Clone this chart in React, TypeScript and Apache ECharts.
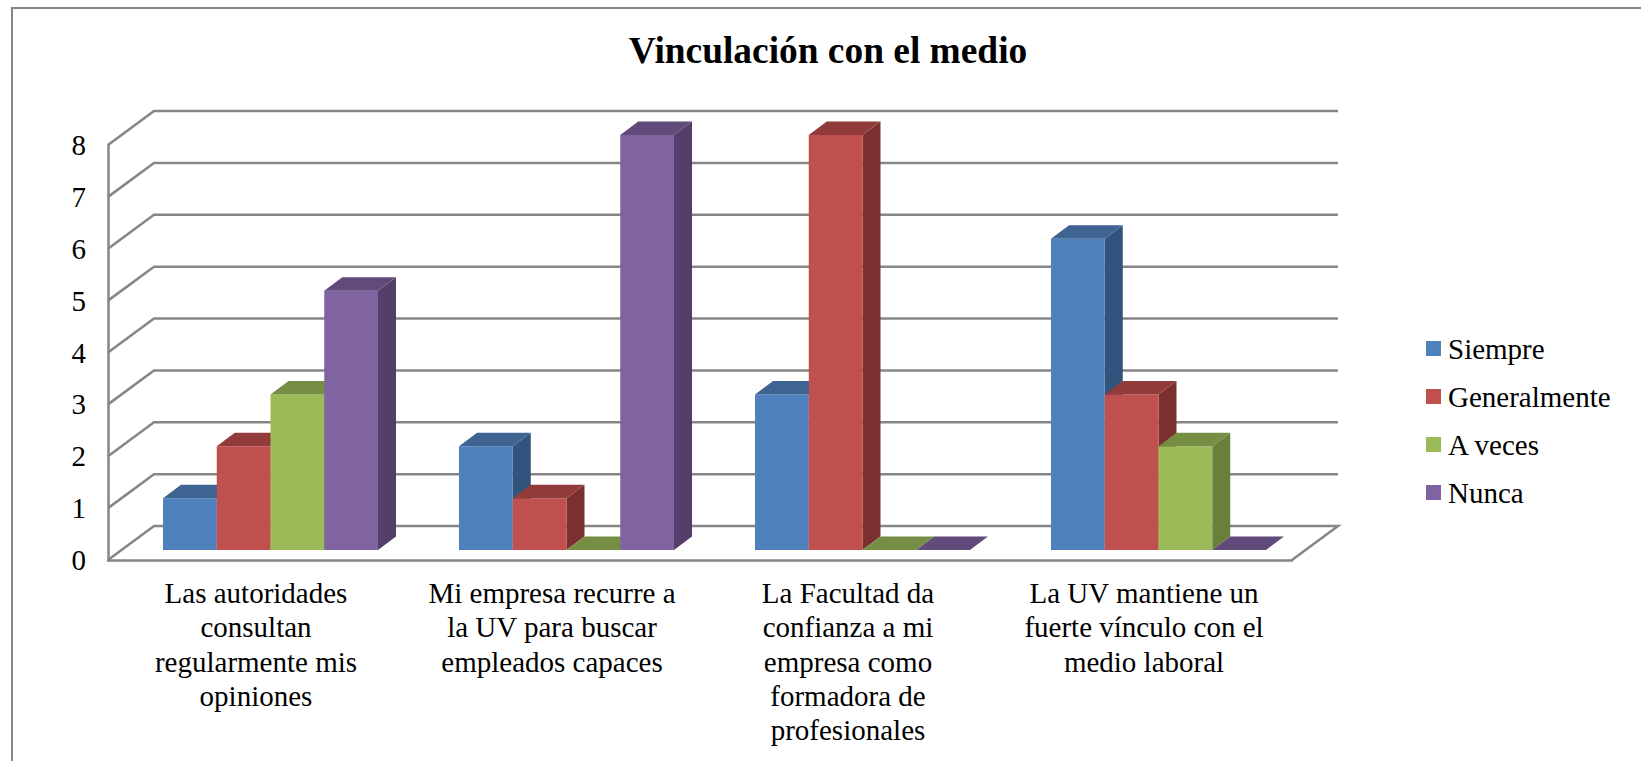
import React, { useEffect, useRef } from "react";
import * as echarts from "echarts";

const categories = [
  "Las autoridades\nconsultan\nregularmente mis\nopiniones",
  "Mi empresa recurre a\nla UV para buscar\nempleados capaces",
  "La Facultad da\nconfianza a mi\nempresa como\nformadora de\nprofesionales",
  "La UV mantiene un\nfuerte vínculo con el\nmedio laboral",
];
const siempre = [1, 2, 3, 6];
const generalmente = [2, 1, 8, 3];
const aVeces = [3, 0, 0, 2];
const nunca = [5, 8, 0, 0];
const yTicks = [0, 1, 2, 3, 4, 5, 6, 7, 8];
const titleText = "Vinculación con el medio";

const FONT = "'Liberation Serif', 'Times New Roman', serif";
const GRID = { left: 108, top: 145, width: 1184, height: 415 };
const WALL_DX = 46;
const WALL_DY = 34;
const BAR_DX = 14.5;
const BAR_DY = 10;
const DEPTH_DX = 18;
const DEPTH_DY = 13.5;
const GROUP_FRACTION = 215 / 296;
const LINE = "#868686";

const seriesDefs = [
  { name: "Siempre", data: siempre, front: "#4F81BD", top: "#3F6491", side: "#31547C" },
  { name: "Generalmente", data: generalmente, front: "#C0504D", top: "#913C3A", side: "#7B2F2E" },
  { name: "A veces", data: aVeces, front: "#9BBB59", top: "#768E43", side: "#697F3C" },
  { name: "Nunca", data: nunca, front: "#8064A2", top: "#614B7B", side: "#533F6A" },
];

function barSeries(def: (typeof seriesDefs)[number], index: number) {
  return {
    type: "custom",
    name: def.name,
    coordinateSystem: "cartesian2d",
    itemStyle: { color: def.front },
    encode: { x: 0, y: 1 },
    z: 5,
    data: def.data.map((v, i) => [i, v]),
    renderItem: (_params: any, api: any) => {
      const cat = api.value(0);
      const val = api.value(1);
      const band = api.size([1, 0])[0];
      const w = (band * GROUP_FRACTION) / seriesDefs.length;
      const center = api.coord([cat, 0])[0];
      const x0 = center + BAR_DX - (band * GROUP_FRACTION) / 2 + index * w;
      const x1 = x0 + w;
      const yb = api.coord([cat, 0])[1] - BAR_DY;
      const yt = api.coord([cat, val])[1] - BAR_DY;
      const children: any[] = [];
      if (val > 0) {
        children.push({
          type: "polygon",
          shape: { points: [[x1, yb], [x1 + DEPTH_DX, yb - DEPTH_DY], [x1 + DEPTH_DX, yt - DEPTH_DY], [x1, yt]] },
          style: { fill: def.side },
        });
        children.push({
          type: "rect",
          shape: { x: x0, y: yt, width: w, height: yb - yt },
          style: { fill: def.front },
        });
      }
      children.push({
        type: "polygon",
        shape: { points: [[x0, yt], [x1, yt], [x1 + DEPTH_DX, yt - DEPTH_DY], [x0 + DEPTH_DX, yt - DEPTH_DY]] },
        style: { fill: def.top },
      });
      return { type: "group", children };
    },
  };
}

const wallSeries = {
  type: "custom",
  name: "wall",
  coordinateSystem: "cartesian2d",
  silent: true,
  z: 1,
  encode: { y: 0 },
  data: yTicks.map((t) => [t]),
  renderItem: (params: any, api: any) => {
    const v = api.value(0);
    const [, y] = api.coord([0, v]);
    const cs = params.coordSys;
    const l = cs.x;
    const r = cs.x + cs.width;
    const style = { stroke: LINE, lineWidth: 2.5, fill: "none" };
    const points =
      v === 0
        ? [[l, y], [l + WALL_DX, y - WALL_DY], [r + WALL_DX, y - WALL_DY], [r, y]]
        : [[l, y], [l + WALL_DX, y - WALL_DY], [r + WALL_DX, y - WALL_DY]];
    return { type: "polyline", shape: { points }, style };
  },
};

export default function App() {
  const ref = useRef<HTMLDivElement>(null);
  useEffect(() => {
    const chart = echarts.init(ref.current!, undefined, { renderer: "svg" });
    chart.setOption({
      animation: false,
      backgroundColor: "#fff",
      title: {
        text: titleText,
        left: 823,
        top: 27,
        textAlign: "center",
        textStyle: { fontFamily: FONT, fontSize: 37.4, fontWeight: "bold", color: "#000" },
      },
      legend: {
        show: true,
        orient: "vertical",
        left: 1426,
        top: 334,
        padding: 0,
        icon: "rect",
        itemWidth: 15,
        itemHeight: 15,
        itemGap: 19,
        data: seriesDefs.map((d) => d.name),
        textStyle: { fontFamily: FONT, fontSize: 29, color: "#000", padding: [0, 0, 0, 2] },
      },
      grid: { ...GRID, containLabel: false },
      xAxis: {
        type: "category",
        data: categories,
        axisLine: { show: true, lineStyle: { color: LINE, width: 2.5 } },
        axisTick: { show: false },
        splitLine: { show: false },
        axisLabel: {
          interval: 0,
          margin: 16,
          fontFamily: FONT,
          fontSize: 29,
          lineHeight: 34.3,
          color: "#000",
          align: "center",
        },
      },
      yAxis: {
        type: "value",
        min: 0,
        max: 8,
        interval: 1,
        axisLine: { show: true, lineStyle: { color: LINE, width: 2.5 } },
        axisTick: { show: false },
        splitLine: { show: false },
        axisLabel: { margin: 22, fontFamily: FONT, fontSize: 29, color: "#000" },
      },
      graphic: [
        {
          type: "polyline",
          shape: { points: [[12, 761], [12, 8], [1641, 8]] },
          style: { stroke: LINE, lineWidth: 2, fill: "none" },
          silent: true,
        },
      ],
      series: [wallSeries, ...seriesDefs.map(barSeries)],
    });
    return () => chart.dispose();
  }, []);
  return (
    <div
      ref={ref}
      style={{ position: "fixed", left: 0, top: 0, width: 1641, height: 761 }}
    />
  );
}
